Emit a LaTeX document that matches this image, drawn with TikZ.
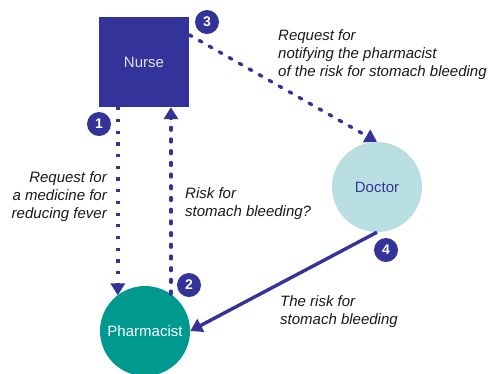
\documentclass[tikz,border=0pt]{standalone}
\usepackage{fontspec}
\setmainfont{Liberation Sans}
\usetikzlibrary{arrows.meta,calc}
\definecolor{navy}{RGB}{51,51,153}
\definecolor{lightcyan}{RGB}{185,223,227}
\definecolor{tealc}{RGB}{0,153,143}
\definecolor{nursetext}{RGB}{225,225,240}
\tikzset{
  x=1pt, y=-1pt,
  lbl/.style={font=\fontsize{15}{17.8}\selectfont\itshape, inner sep=0pt, text=black!90},
  badge/.style={circle, fill=navy, minimum size=24pt, inner sep=0pt, text=white, font=\fontsize{14}{14}\selectfont\bfseries},
  tip/.style={-{Triangle[width=14pt,length=12pt]}},
  conn/.style={draw=navy, line width=3.4pt},
  nlabel/.style={font=\fontsize{15}{17}\selectfont},
}
\begin{document}
\begin{tikzpicture}
\clip (0,0) rectangle (492,373);
\useasboundingbox (0,0) rectangle (492,373);
% nodes
\node[fill=navy, minimum size=90pt, inner sep=0pt, text=nursetext, nlabel] (nurse) at (144,62) {Nurse};
\node[circle, fill=lightcyan, minimum size=90pt, inner sep=0pt, text=navy, nlabel] (doctor) at (377,187) {Doctor};
\node[circle, fill=tealc, minimum size=90pt, inner sep=0pt, text=white, nlabel] (pharm) at (145,331) {Pharmacist};
% connectors
\coordinate (a1s) at ([xshift=19pt]nurse.south west);
\draw[conn, tip, dash pattern=on 3.2pt off 8.5pt] (a1s) -- (a1s |- pharm.128);
\coordinate (a2s) at (pharm.55);
\draw[conn, tip, line cap=round, dash pattern=on 2.8pt off 8.9pt] (a2s) -- (a2s |- nurse.south);
\coordinate (a3s) at ([yshift=-18pt]nurse.north east);
\draw[conn, tip, line cap=round, dash pattern=on 3pt off 8.5pt] (a3s) -- (doctor.north);
\draw[conn, tip] (doctor.south) -- (pharm.east);
% badges
\node[badge] (b1) at (99,124) {1};
\node[badge] (b2) at (189,285) {2};
\node[badge] (b3) at (207,22) {3};
\node[badge] (b4) at (386,250) {4};
% labels (base anchor = last line)
\node[lbl, align=right, anchor=base east] (t1) at (107,218) {Request for\\a medicine for\\reducing fever};
\node[lbl, align=left, anchor=base west] (t2) at (185,216) {Risk for\\stomach bleeding?};
\node[lbl, align=left, anchor=base west] (t3) at (278,76) {Request for\\notifying the pharmacist\\of the risk for stomach bleeding};
\node[lbl, align=left, anchor=base west] (t4) at (280,324) {The risk for\\stomach bleeding};
\end{tikzpicture}
\end{document}
